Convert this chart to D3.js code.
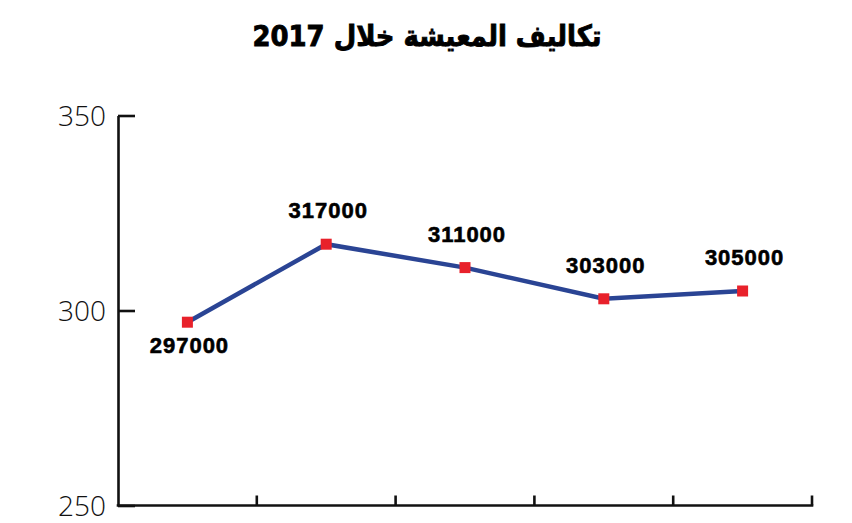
<!DOCTYPE html>
<html><head><meta charset="utf-8">
<script src="https://cdn.jsdelivr.net/npm/d3@7/dist/d3.min.js"></script>
<style>body{margin:0;background:#fff;}svg{display:block;}</style>
</head><body>
<svg id="c" width="852" height="523"></svg>
<script>
const title = "تكاليف المعيشة خلال 2017";
const categories = ["1", "2", "3", "4", "5"];
const values = [297, 317, 311, 303, 305];
const valueLabels = ["297000", "317000", "311000", "303000", "305000"];
const yTicks = [250, 300, 350];

const svg = d3.select("#c");
const x = d3.scaleBand().domain(categories).range([118, 812]);
const y = d3.scaleLinear().domain([250, 350]).range([505.5, 115.5]);

svg.append("text").attr("x", 427).attr("y", 46).attr("text-anchor", "middle")
  .attr("direction", "rtl")
  .attr("textLength", 349).attr("lengthAdjust", "spacingAndGlyphs")
  .style("font-family", "DejaVu Sans").style("font-weight", "bold").style("font-size", "29px")
  .attr("stroke", "#000").attr("stroke-width", 0.9)
  .text(title);

const yAxis = svg.append("g").attr("transform", "translate(118,0)")
  .call(d3.axisLeft(y).tickValues(yTicks).tickSize(-17).tickSizeOuter(0).tickPadding(12).tickFormat(d3.format("d")));
yAxis.select(".domain").attr("stroke", "#111").attr("stroke-width", 2.6);
yAxis.selectAll(".tick line").attr("stroke", "#111").attr("stroke-width", 2.6);
yAxis.selectAll(".tick text").style("font-family", "Open Sans").style("font-weight", 300)
  .style("font-size", "28px").attr("fill", "#111").attr("dy", "0.34em");

const xAxis = svg.append("g").attr("transform", "translate(0,505.5)");
xAxis.append("line").attr("x1", x.range()[0] - 1.3).attr("x2", x.range()[1] + 1.3)
  .attr("stroke", "#111").attr("stroke-width", 2.6);
xAxis.selectAll("line.t").data(categories).join("line").attr("class", "t")
  .attr("x1", d => x(d) + x.bandwidth()).attr("x2", d => x(d) + x.bandwidth())
  .attr("y1", 0).attr("y2", -10).attr("stroke", "#111").attr("stroke-width", 2.6);

const cx = (d, i) => x(categories[i]) + x.bandwidth() / 2;
const line = d3.line().x((d, i) => cx(d, i)).y(d => y(d));
svg.append("path").datum(values).attr("d", line).attr("fill", "none")
  .attr("stroke", "#2a4494").attr("stroke-width", 4.5).attr("stroke-linejoin", "miter");

svg.selectAll("rect.m").data(values).join("rect").attr("class", "m")
  .attr("x", (d, i) => cx(d, i) - 5.5).attr("y", d => y(d) - 5.5)
  .attr("width", 11).attr("height", 11).attr("fill", "#e8212b");

svg.selectAll("text.v").data(values).join("text").attr("class", "v")
  .attr("x", (d, i) => cx(d, i) + 2)
  .attr("y", (d, i) => i === 0 ? y(d) + 31 : y(d) - 26)
  .attr("text-anchor", "middle")
  .style("font-family", "Liberation Sans").style("font-weight", "bold").style("font-size", "22px")
  .style("letter-spacing", "1px")
  .attr("stroke", "#000").attr("stroke-width", 0.6)
  .text((d, i) => valueLabels[i]);
</script>
</body></html>
